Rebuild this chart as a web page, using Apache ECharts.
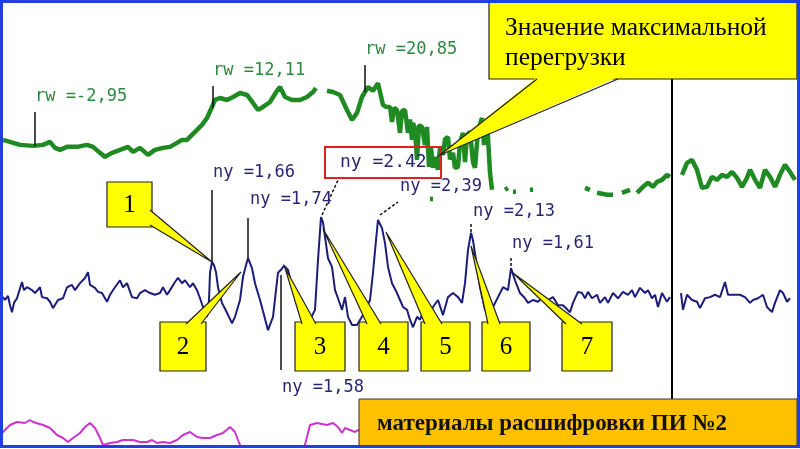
<!DOCTYPE html>
<html><head><meta charset="utf-8">
<script src="https://cdn.jsdelivr.net/npm/echarts@6/dist/echarts.min.js"></script>
<style>html,body{margin:0;padding:0;background:#fff}#c{width:800px;height:449px}</style>
</head><body><div id="c"></div>
<script>
// time in s (x axis 0..80)
const rwData = [
[0.3,-1.19],[1.0,-1.89],[2.0,-2.94],[3.3,-3.29],[4.3,-2.94],[5.0,-1.89],[5.5,-3.99],[6.0,-4.69],[6.7,-3.64],[7.7,-3.64],
[8.7,-2.94],[9.3,-3.64],[10.0,-5.74],[10.5,-7.15],[11.2,-5.74],[12.0,-4.69],[12.8,-3.64],[13.3,-5.39],[14.0,-3.99],[14.8,-6.44],
[15.5,-4.69],[16.3,-3.99],[17.0,-3.64],[17.7,-2.24],[18.2,-1.19],[18.7,-1.19],[19.2,0.56],[19.7,2.31],[20.2,4.06],[20.7,6.51],
[21.2,10.37],[21.5,12.82],[22.0,13.52],[22.7,12.82],[23.3,13.87],[24.0,15.27],[24.7,14.57],[25.3,11.77],[25.8,9.32],[26.3,10.37],
[27.0,12.12],[27.7,16.03],[28.0,17.37],[28.5,13.87],[29.2,12.82],[30.0,12.82],[30.7,13.87],[31.3,15.62],[31.6,16.97],[32.0,null],
[32.7,16.03],[33.3,15.62],[34.0,14.57],[34.7,9.32],[35.2,5.81],[35.7,8.27],[36.2,13.87],[36.5,15.62],[36.8,17.37],[37.3,16.03],
[37.8,18.72],[38.3,11.07],[38.6,10.4],[39.0,10.37],[39.2,5.1],[39.4,10.0],[39.7,9.32],[40.0,1.26],[40.2,9.0],[40.5,9.32],
[40.8,1.26],[41.0,6.0],[41.2,-1.19],[41.3,4.76],[41.5,2.31],[41.7,-8.2],[41.9,4.0],[42.2,3.36],[42.5,-3.0],[42.7,3.36],
[42.9,-10.65],[43.1,-4.0],[43.3,-11.0],[43.5,-7.15],[43.8,-11.7],[44.0,-4.0],[44.3,-6.44],[44.5,-1.0],[44.8,-0.14],[45.0,-8.0],
[45.3,-5.74],[45.5,-11.0],[45.8,-10.65],[46.0,-2.0],[46.3,1.26],[46.5,-9.0],[46.7,0.5],[47.0,1.61],[47.3,-9.0],[47.5,-10.99],
[47.8,2.0],[48.2,6.51],[48.4,-3.0],[48.7,5.81],[49.0,-12.75],[49.2,-18.7],[49.6,null],
[50.5,-18.7],[50.8,-18.0],[51.0,null],[51.3,-19.4],[51.6,-19.4],[52.0,null],[53.0,-18.7],[53.3,-18.7],[53.6,null],
[58.5,-18.0],[59.0,-18.7],[59.3,null],[59.7,-19.75],[60.7,-20.45],[61.3,-20.45],[61.7,null],[62.2,-19.75],[63.0,-18.7],[63.3,null],
[63.7,-19.75],[64.3,-17.65],[64.8,-16.25],[65.3,-17.65],[65.7,-15.9],[66.2,-15.2],[66.7,-13.45],[67.0,-14.15],[67.5,null],
[68.2,-13.45],[68.7,-9.25],[69.2,-8.2],[69.7,-11.7],[70.2,-18.0],[70.7,-17.65],[71.2,-14.15],[71.7,-15.2],[72.2,-13.45],[72.7,-14.15],
[73.2,-12.4],[73.7,-14.5],[74.2,-17.65],[74.7,-14.5],[75.0,-11.7],[75.5,-15.2],[76.0,-18.0],[76.5,-11.7],[77.0,-14.15],[77.5,-17.65],
[78.0,-13.45],[78.5,-9.95],[79.0,-12.4],[79.5,-15.2]
];
const rwDots = [[43.0,-21.9],[43.3,-21.9]];
const nyData = [
[0.3,1.05],[0.5,1.00],[0.8,1.07],[1.0,0.91],[1.2,0.79],[1.4,0.95],[1.7,1.03],[2.2,1.31],[2.4,1.17],[2.7,1.22],
[3.2,1.17],[3.5,1.12],[4.0,1.22],[4.2,1.05],[4.7,1.03],[5.0,0.97],[5.3,0.86],[5.8,1.00],[6.3,1.03],[6.7,1.22],
[7.2,1.26],[7.5,1.17],[8.0,1.29],[8.5,1.38],[8.8,1.48],[9.0,1.26],[9.2,1.29],[9.5,1.21],[9.8,1.14],[10.2,1.12],
[10.7,0.97],[11.0,1.09],[11.5,1.22],[12.0,1.34],[12.3,1.22],[12.7,1.29],[13.2,1.05],[13.7,1.03],[14.0,1.12],[14.5,1.17],
[15.0,1.12],[15.5,1.09],[16.0,1.12],[16.3,1.22],[16.7,1.09],[17.0,1.17],[17.5,1.31],[17.8,1.38],[18.2,1.29],[18.5,1.34],
[19.0,1.22],[19.3,1.29],[19.7,1.17],[20.0,1.03],[20.3,0.88],[20.7,0.71],[20.9,1.00],[21.0,1.47],[21.2,1.66],[21.4,1.60],
[21.6,1.48],[21.8,1.22],[22.2,0.95],[22.7,0.78],[23.2,0.60],[23.5,0.71],[24.0,1.00],[24.3,1.40],[24.6,1.60],[24.8,1.72],
[25.2,1.55],[25.5,1.29],[26.0,1.00],[26.4,0.74],[26.8,0.48],[27.3,0.71],[27.6,1.17],[27.8,1.47],[28.1,1.52],[28.4,1.59],
[28.8,1.52],[29.3,1.17],[29.8,0.88],[30.3,0.71],[31.0,0.66],[31.5,0.83],[31.8,1.69],[32.1,2.43],[32.3,2.34],[32.5,2.09],
[32.8,1.72],[33.2,1.57],[33.5,1.17],[33.8,1.03],[34.2,0.83],[34.5,1.05],[34.8,0.71],[35.2,0.57],[35.7,0.57],[36.3,0.74],
[37.0,1.00],[37.3,1.47],[37.6,2.03],[37.8,2.38],[38.2,2.24],[38.5,1.98],[38.8,1.57],[39.2,1.29],[39.7,1.12],[40.0,1.00],
[40.3,0.88],[40.7,0.83],[41.0,0.66],[41.3,0.53],[41.7,0.71],[42.0,0.66],[42.3,0.78],[42.8,0.74],[43.3,0.88],[43.8,1.00],
[44.3,0.74],[44.8,1.05],[45.3,1.12],[45.8,1.05],[46.2,0.95],[46.5,1.29],[46.8,1.86],[47.1,2.16],[47.3,2.03],[47.7,1.57],
[48.0,1.22],[48.5,0.83],[49.0,0.74],[49.3,0.88],[49.8,1.05],[50.3,1.22],[50.8,1.17],[51.1,1.55],[51.5,1.34],[52.0,1.12],
[52.5,1.03],[52.8,0.95],[53.3,1.00],[53.8,0.97],[54.3,1.05],[54.8,1.00],[55.3,1.05],[55.8,0.91],[56.3,0.91],[57.0,0.79],
[57.3,0.95],[57.8,1.14],[58.2,1.12],[58.5,1.03],[58.8,1.14],[59.2,1.03],[59.7,1.09],[60.0,0.95],[60.5,1.05],[60.8,0.95],
[61.3,1.12],[61.8,1.03],[62.3,1.14],[62.8,1.09],[63.2,1.17],[63.5,1.05],[64.0,1.21],[64.5,1.12],[64.8,1.17],[65.2,1.03],
[65.5,1.09],[65.8,0.88],[66.2,1.12],[66.7,0.97],[67.0,1.05],[67.5,null],
[68.1,1.12],[68.3,0.83],[68.7,1.09],[69.2,1.00],[69.7,0.97],[70.0,0.86],[70.5,1.03],[71.0,1.05],[71.5,1.09],[72.0,1.05],
[72.5,1.31],[72.8,1.09],[73.5,1.09],[74.0,1.09],[74.5,1.05],[75.0,0.95],[75.3,1.00],[75.8,1.03],[76.3,1.09],[76.7,0.88],
[77.2,0.79],[77.5,0.95],[78.0,1.17],[78.3,1.12],[78.7,0.97],[79.0,1.03]
];
const magData = [
[0.2,14],[1.0,22],[1.7,25],[2.5,24],[3.0,27],[3.3,25],[4.3,22],[5.0,19],[5.7,12],[6.3,9],
[6.8,5],[7.3,9],[8.0,14],[8.5,20],[9.0,24],[9.5,19],[10.0,9],[10.3,2],[11.0,4],[11.7,5],
[12.3,7],[13.3,7],[14.0,5],[14.7,5],[15.2,7],[15.7,4],[16.3,5],[17.0,4],[17.7,7],[18.3,12],
[19.0,15],[19.7,10],[20.3,9],[21.0,9],[21.7,12],[22.3,14],[23.0,20],[23.5,15],[23.8,7],[24.2,-3],
[24.7,-5],[27.0,null],[30.3,-5],[30.7,10],[31.0,22],[31.7,24],[32.7,22],[33.3,24],[33.8,20],[34.2,14],
[34.5,19],[35.0,17],[35.5,15],[35.8,17],[36.2,15]
];
const rwLabels = ['rw =-2,95','rw =12,11','rw =20,85'];
const nyLabels = ['ny =1,66','ny =1,74','ny =2.42','ny =2,39','ny =2,13','ny =1,61','ny =1,58'];
const calloutNums = ['1','2','3','4','5','6','7'];
const calloutTitle = ['Значение максимальной','перегрузки'];
const footerText = 'материалы расшифровки ПИ №2';

const GREEN='#1f8a22', NAVY='#1c1c7a', LBLG='#2b8a3e', LBLN='#262673';
const MONO='17px "DejaVu Sans Mono", monospace';
const SERIF='"Liberation Serif", "DejaVu Serif", serif';
const g = [];
g.push({type:'line',shape:{x1:672,y1:0,x2:672,y2:400},style:{stroke:'#000',lineWidth:2},z:50});
const ticks=[[35,112,146],[213,86,108],[365,65,92],[212,190,262],[248,218,258],[281,275,370]];
ticks.forEach(t=>g.push({type:'line',shape:{x1:t[0],y1:t[1],x2:t[0],y2:t[2]},style:{stroke:'#111',lineWidth:1.5},z:60}));
const dashT=[[322,215,338,180],[380,215,398,202],[471,224,471,233],[511,258,511,268]];
dashT.forEach(t=>g.push({type:'line',shape:{x1:t[0],y1:t[1],x2:t[2],y2:t[3]},style:{stroke:'#111',lineWidth:1.5,lineDash:[3,2]},z:60}));
const rwPos=[[35,97],[213,71],[365,50]];
rwLabels.forEach((s,i)=>g.push({type:'text',z:70,style:{text:s,x:rwPos[i][0],y:rwPos[i][1],fill:LBLG,font:MONO,align:'left',verticalAlign:'middle',textAlign:'left',textVerticalAlign:'middle'}}));
const nyPos=[[213,173],[250,200],[340,162],[400,187],[473,212],[512,244],[282,388]];
nyLabels.forEach((s,i)=>g.push({type:'text',z:70,style:{text:s,x:nyPos[i][0],y:nyPos[i][1],fill:LBLN,font:(i===2?'18px "DejaVu Sans Mono", monospace':MONO),align:'left',verticalAlign:'middle',textAlign:'left',textVerticalAlign:'middle'}}));
g.push({type:'rect',z:65,shape:{x:325,y:147,width:116,height:31},style:{fill:'rgba(255,255,255,0)',stroke:'#e02020',lineWidth:2}});
const boxes=[
 {b:[107,182,45,45],p:[[150,210],[150,225]],t:[212,262]},
 {b:[160,322,46,49],p:[[186,324],[201,324]],t:[241,272]},
 {b:[295,322,50,49],p:[[302,324],[316,324]],t:[285,268]},
 {b:[359,322,49,49],p:[[367,324],[381,324]],t:[323,229]},
 {b:[421,322,49,49],p:[[425,324],[442,324]],t:[386,232]},
 {b:[482,322,48,49],p:[[488,324],[500,324]],t:[471,246]},
 {b:[562,322,50,49],p:[[566,324],[582,324]],t:[513,273]}
];
boxes.forEach((o,i)=>{
  const b=o.b;
  g.push({type:'rect',z:80,shape:{x:b[0],y:b[1],width:b[2],height:b[3]},style:{fill:'#ffff00',stroke:'#222',lineWidth:1.2}});
  g.push({type:'polygon',z:81,shape:{points:[o.p[0],o.t,o.p[1]]},style:{fill:'#ffff00',stroke:null}});
  g.push({type:'polyline',z:82,shape:{points:[o.p[0],o.t,o.p[1]]},style:{fill:null,stroke:'#222',lineWidth:1.2}});
  g.push({type:'text',z:83,style:{text:calloutNums[i],x:b[0]+b[2]/2,y:b[1]+b[3]/2+1,fill:'#000',font:'25px '+SERIF,align:'center',verticalAlign:'middle',textAlign:'center',textVerticalAlign:'middle'}});
});
g.push({type:'rect',z:80,shape:{x:489,y:1,width:308,height:78},style:{fill:'#ffff00',stroke:'#222',lineWidth:1.2}});
g.push({type:'polygon',z:81,shape:{points:[[537,77],[440,155],[618,77]]},style:{fill:'#ffff00',stroke:null}});
g.push({type:'polyline',z:82,shape:{points:[[537,79],[440,155],[618,79]]},style:{fill:null,stroke:'#222',lineWidth:1.2}});
g.push({type:'text',z:83,style:{text:calloutTitle[0],x:505,y:28,fill:'#000',font:'25.5px '+SERIF,align:'left',verticalAlign:'middle',textAlign:'left',textVerticalAlign:'middle'}});
g.push({type:'text',z:83,style:{text:calloutTitle[1],x:505,y:58,fill:'#000',font:'25.5px '+SERIF,align:'left',verticalAlign:'middle',textAlign:'left',textVerticalAlign:'middle'}});
g.push({type:'rect',z:80,shape:{x:359,y:399,width:438,height:47},style:{fill:'#ffc000',stroke:'#333',lineWidth:1}});
g.push({type:'text',z:83,style:{text:footerText,x:377,y:424,fill:'#111',font:'bold 23px '+SERIF,align:'left',verticalAlign:'middle',textAlign:'left',textVerticalAlign:'middle'}});
g.push({type:'rect',z:90,shape:{x:1.5,y:1.5,width:797,height:445},style:{fill:null,stroke:'#1f3fe0',lineWidth:3}});

const xa = i=>({gridIndex:i,type:'value',min:0,max:80,show:false});
const chart = echarts.init(document.getElementById('c'),null,{renderer:'canvas'});
chart.setOption({
  animation:false,
  backgroundColor:'#ffffff',
  grid:[
    {left:0,right:0,top:51,height:171},
    {left:0,right:0,top:184,height:174},
    {left:0,right:0,top:417,height:30}
  ],
  xAxis:[xa(0),xa(1),xa(2)],
  yAxis:[
    {gridIndex:0,type:'value',min:-30,max:30,show:false},
    {gridIndex:1,type:'value',min:0,max:3,show:false},
    {gridIndex:2,type:'value',min:0,max:30,show:false}
  ],
  series:[
    {type:'line',name:'rw',xAxisIndex:0,yAxisIndex:0,data:rwData,showSymbol:false,symbol:'none',connectNulls:false,lineStyle:{color:GREEN,width:4.5},z:3},
    {type:'line',name:'rw2',xAxisIndex:0,yAxisIndex:0,data:rwDots,showSymbol:false,symbol:'none',lineStyle:{color:GREEN,width:4.5},z:3},
    {type:'line',name:'ny',xAxisIndex:1,yAxisIndex:1,data:nyData,showSymbol:false,symbol:'none',connectNulls:false,lineStyle:{color:NAVY,width:2},z:4},
    {type:'line',name:'mag',xAxisIndex:2,yAxisIndex:2,data:magData,showSymbol:false,symbol:'none',connectNulls:false,clip:true,lineStyle:{color:'#cc33cc',width:2},z:3}
  ],
  graphic:{elements:g}
});
</script></body></html>
